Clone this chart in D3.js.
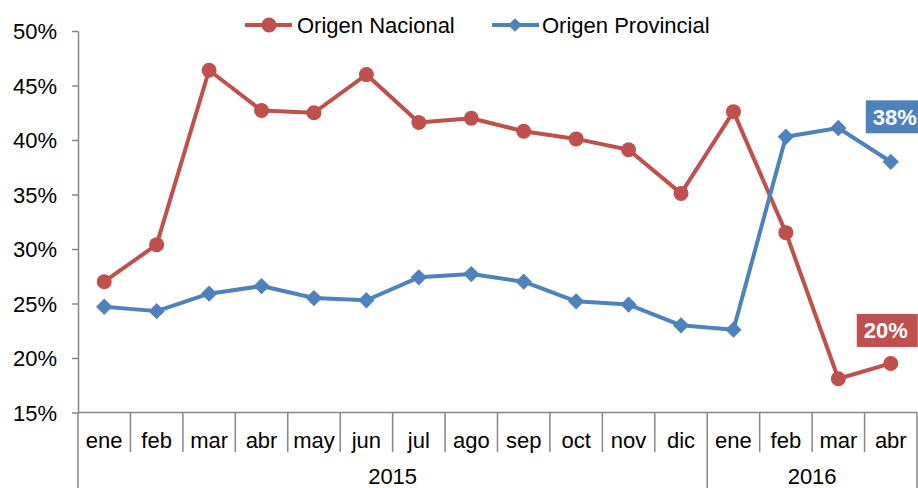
<!DOCTYPE html>
<html><head><meta charset="utf-8">
<script src="https://cdn.jsdelivr.net/npm/d3@7"></script>
<style>body{margin:0;background:#fff}svg{display:block}text{font-family:"Liberation Sans",Arial,sans-serif}</style>
</head><body>
<svg id="c" width="918" height="488"></svg>
<script>
const months = ["ene","feb","mar","abr","may","jun","jul","ago","sep","oct","nov","dic","ene","feb","mar","abr"];
const years = [{label:"2015", from:0, to:12},{label:"2016", from:12, to:16}];
const nacional = [27.0,30.4,46.4,42.7,42.5,46.0,41.6,42.0,40.8,40.1,39.1,35.1,42.6,31.5,18.1,19.5];
const provincial = [24.7,24.3,25.9,26.6,25.5,25.3,27.4,27.7,27.0,25.2,24.9,23.0,22.6,40.3,41.1,38.0];
const yTicks = [15,20,25,30,35,40,45,50];
const seriesNames = ["Origen Nacional","Origen Provincial"];
const colors = ["#C0504D","#4F81BD"];
const endLabels = ["20%","38%"];

const svg = d3.select("#c");
const L=78, R=917, T=31, B=412.5;
const FS = 22;
const idx = d3.range(months.length);
const x = d3.scaleBand().domain(idx).range([L,R]).padding(0);
const y = d3.scaleLinear().domain([15,50]).range([B,T]);
const gray = "#868686";

// y axis
const ya = svg.append("g").attr("transform",`translate(${L},0)`)
  .call(d3.axisLeft(y).tickValues(yTicks).tickFormat(d=>d+"%").tickSize(6).tickSizeOuter(0));
ya.select(".domain").attr("stroke",gray).attr("stroke-width",1.5);
ya.selectAll(".tick line").attr("stroke",gray).attr("stroke-width",1.5);
ya.selectAll(".tick text").attr("font-size",FS).attr("fill","#000").attr("x",-21).attr("dy","0.35em");

// x axis baseline
svg.append("line").attr("x1",L).attr("x2",R).attr("y1",B).attr("y2",B).attr("stroke",gray).attr("stroke-width",1.5);
// category separators
idx.concat([months.length]).forEach(i=>{
  const xx = i<months.length ? x(i) : R;
  const isYear = years.some(yy=>yy.from===i) || i===months.length;
  svg.append("line").attr("x1",xx).attr("x2",xx).attr("y1",B).attr("y2",isYear?488:452)
    .attr("stroke",gray).attr("stroke-width",1.5);
});
svg.append("g").selectAll("text").data(idx).join("text")
  .attr("x",i=>x(i)+x.bandwidth()/2).attr("y",448).attr("text-anchor","middle")
  .attr("font-size",FS).text(i=>months[i]);
svg.append("g").selectAll("text").data(years).join("text")
  .attr("x",d=>((d.from<months.length?x(d.from):R)+(d.to<months.length?x(d.to):R))/2)
  .attr("y",484).attr("text-anchor","middle").attr("font-size",FS).text(d=>d.label);

const cx = i=>x(i)+x.bandwidth()/2;
const line = d3.line().x((d,i)=>cx(i)).y(d=>y(d));
[nacional,provincial].forEach((s,k)=>{
  svg.append("path").datum(s).attr("d",line).attr("fill","none").attr("stroke",colors[k])
    .attr("stroke-width",4).attr("stroke-linejoin","round");
});
// markers
svg.append("g").selectAll("circle").data(nacional).join("circle")
  .attr("cx",(d,i)=>cx(i)).attr("cy",d=>y(d)).attr("r",7.5).attr("fill",colors[0]);
const diamond = d3.symbol().type(d3.symbolDiamond2).size(170);
svg.append("g").selectAll("path").data(provincial).join("path")
  .attr("transform",(d,i)=>`translate(${cx(i)},${y(d)})`).attr("d",diamond).attr("fill",colors[1]);

// end labels (offsets relative to last point)
[[nacional,0,-33,-34,61],[provincial,1,-45,-25,60]].forEach(([s,k,dy,dx,w])=>{
  const last = s.length-1;
  const h = 33;
  const px = cx(last), py = y(s[last]);
  const bx = px + dx, yy = py + dy;
  svg.append("rect").attr("x",bx).attr("y",yy-h/2).attr("width",w).attr("height",h).attr("fill",colors[k]);
  svg.append("text").attr("x",bx+7).attr("y",yy).attr("dy","0.36em").attr("text-anchor","start")
    .attr("fill","#fff").attr("font-weight","bold").attr("font-size",FS).text(endLabels[k]);
});

// legend
const leg = [{x0:245,tx:297},{x0:492,tx:542}];
leg.forEach((p,k)=>{
  const g = svg.append("g");
  g.append("line").attr("x1",p.x0).attr("x2",p.x0+47).attr("y1",25).attr("y2",25).attr("stroke",colors[k]).attr("stroke-width",4);
  if(k===0) g.append("circle").attr("cx",p.x0+24).attr("cy",25).attr("r",7.5).attr("fill",colors[0]);
  else g.append("path").attr("transform",`translate(${p.x0+23},25)`).attr("d",d3.symbol().type(d3.symbolDiamond2).size(120)).attr("fill",colors[1]);
  g.append("text").attr("x",p.tx).attr("y",25).attr("dy","0.35em").attr("font-size",FS).text(seriesNames[k]);
});
</script>
</body></html>
